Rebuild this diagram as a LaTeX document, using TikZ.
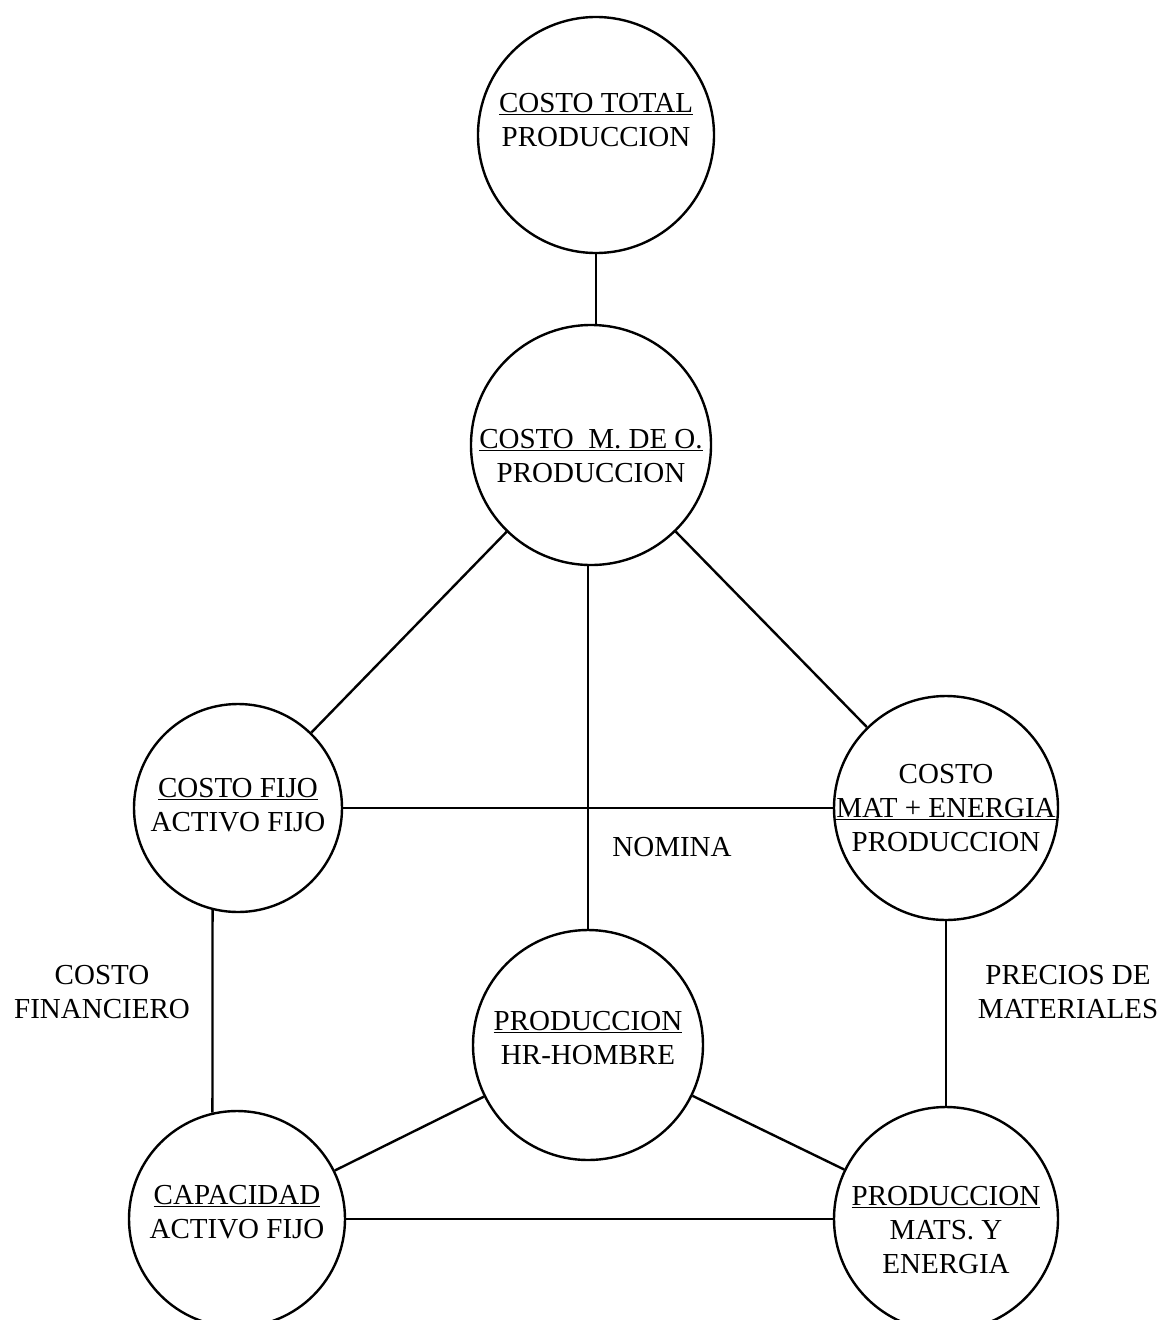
\documentclass[tikz,border=0pt]{standalone}
\usepackage{fontspec}
\setmainfont{Liberation Serif}
\begin{document}
\begin{tikzpicture}[x=1pt,y=-1pt,
  bub/.style={circle,draw,line width=2.4pt,inner sep=0pt},
  txt/.style={align=center,font=\fontsize{29}{34}\selectfont,inner sep=0pt},
  link/.style={line width=2.4pt}]
\useasboundingbox (0,0) rectangle (1173,1320);
\clip (0,0) rectangle (1173,1320);

% circles
\node[bub,minimum size=236pt] (tot) at (596,135) {};
\node[bub,minimum size=240pt] (mdo) at (591,445) {};
\node[bub,minimum size=208pt] (cf)  at (238,808) {};
\node[bub,minimum size=224pt] (mat) at (946,808) {};
\node[bub,minimum size=230pt] (hr)  at (588,1045) {};
\node[bub,minimum size=216pt] (cap) at (237,1219) {};
\node[bub,minimum size=224pt] (pme) at (946,1219) {};

% texts inside the circles
\node[txt] (ttot) at (596,120) {\underline{COSTO TOTAL}\\PRODUCCION};
\node[txt] (tmdo) at (591,456) {\underline{COSTO\ \ M. DE O.}\\PRODUCCION};
\node[txt] (tcf)  at (238,805) {\underline{COSTO FIJO}\\ACTIVO FIJO};
\node[txt] (tmat) at (946,808) {COSTO\\\underline{MAT + ENERGIA}\\PRODUCCION};
\node[txt] (thr)  at (588,1038) {\underline{PRODUCCION}\\HR-HOMBRE};
\node[txt] (tcap) at (237,1212) {\underline{CAPACIDAD}\\ACTIVO FIJO};
\node[txt] (tpme) at (946,1230) {\underline{PRODUCCION}\\MATS. Y\\ENERGIA};

% free labels
\node[txt] (nom) at (672,847) {NOMINA};
\node[txt] (fin) at (102,992) {COSTO\\FINANCIERO};
\node[txt] (pre) at (1068,992) {PRECIOS DE\\MATERIALES};

% connectors
\draw[link] (tot.south) -- (tot.south |- mdo.north);
\draw[link] (mdo) -- (cf);
\draw[link] (mdo) -- (mat);
\draw[link] (mdo.south -| hr.north) -- (hr.north);
\draw[link] (cf) -- (mat);
\draw[link] (cf.256) -- (cap.103);
\draw[link] (mat) -- (pme);
\draw[link] (hr) -- (cap);
\draw[link] (hr) -- (pme);
\draw[link] (cap) -- (pme);
\end{tikzpicture}
\end{document}
